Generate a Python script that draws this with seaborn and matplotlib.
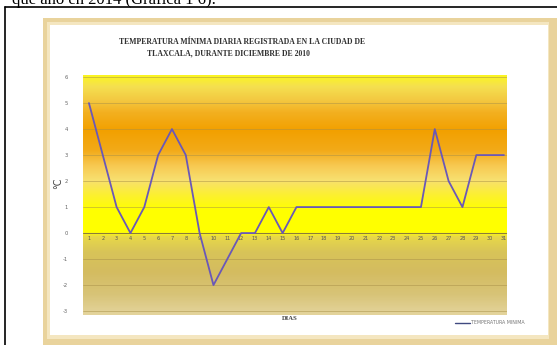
import numpy as np
import pandas as pd
import matplotlib
matplotlib.use("Agg")
import matplotlib.pyplot as plt
from matplotlib.patches import Rectangle
from matplotlib.lines import Line2D
from matplotlib.colors import to_rgb
import seaborn as sns

# Daily minimum temperature, Tlaxcala, December 2010
dias = list(range(1, 32))
temperatura = [5, 3, 1, 0, 1, 3, 4, 3, 0, -2, -1, 0, 0, 1, 0, 1,
               1, 1, 1, 1, 1, 1, 1, 1, 1, 4, 2, 1, 3, 3, 3]
y_ticks = [-3, -2, -1, 0, 1, 2, 3, 4, 5, 6]

titulo_1 = "TEMPERATURA MÍNIMA DIARIA REGISTRADA EN LA CIUDAD DE"
titulo_2 = "TLAXCALA, DURANTE DICIEMBRE DE 2010"
serie = "TEMPERATURA MINIMA"

df = pd.DataFrame({"DIAS": dias, "temp": temperatura})

sns.set_theme(style="white")
plt.rcParams["font.family"] = ["DejaVu Sans"]

W, H = 557, 345
fig = plt.figure(figsize=(W / 100, H / 100), dpi=100)
fig.patch.set_facecolor("white")


def fx(px):
    return px / W


def fy(py):
    return 1 - py / H


# page text above the figure box
fig.text(fx(12), fy(3.5), "que año en 2014 (Gráfica 1 6).", fontsize=12,
         family="Liberation Serif", va="baseline", ha="left", color="black")

# black box around the figure
fig.add_artist(Line2D([fx(5), fx(5)], [fy(7), fy(345)], color="black", lw=1.2,
                      transform=fig.transFigure))
fig.add_artist(Line2D([fx(5), fx(557)], [fy(7), fy(7)], color="black", lw=1.2,
                      transform=fig.transFigure))

# tan picture frame and white chart area
fig.add_artist(Rectangle((fx(43), fy(345)), fx(557 - 43), (345 - 18) / H,
                         transform=fig.transFigure, facecolor="#e9d39c",
                         edgecolor="none", zorder=0))
fig.add_artist(Rectangle((fx(47), fy(339)), fx(549 - 47), (339 - 22) / H,
                         transform=fig.transFigure, facecolor="#f4e6c0",
                         edgecolor="none", zorder=0))
fig.add_artist(Rectangle((fx(50), fy(335)), fx(548 - 50), (335 - 25) / H,
                         transform=fig.transFigure, facecolor="white",
                         edgecolor="none", zorder=0))

# titles
fig.text(fx(242), fy(42), titulo_1, fontsize=5.6, family="Liberation Serif",
         weight="bold", ha="center", va="center", color="#333333")
fig.text(fx(228), fy(53), titulo_2, fontsize=5.6, family="Liberation Serif",
         weight="bold", ha="center", va="center", color="#333333")

ax = fig.add_axes([fx(83), fy(315), fx(507 - 83), (315 - 75) / H])
ymin, ymax = -3.15, 6.08
xmin, xmax = 0.57, 31.22
ax.set_xlim(xmin, xmax)
ax.set_ylim(ymin, ymax)

# vertical colour gradient of the plot area
stops = [(75, "#fbf520"), (86, "#f5e050"), (100, "#f3c840"), (112, "#f3b020"),
         (130, "#f2a000"), (150, "#f3aa18"), (165, "#f7c850"), (180, "#f8e070"),
         (195, "#fcf030"), (210, "#ffff00"), (232, "#ffff00"), (237, "#e8d848"),
         (252, "#d8c458"), (272, "#d4bc60"), (295, "#d8c478"), (315, "#e4d49c")]
pys = np.arange(75, 316)
sp = np.array([s[0] for s in stops])
cols = np.array([to_rgb(s[1]) for s in stops])
grad = np.stack([np.interp(pys, sp, cols[:, k]) for k in range(3)], axis=1)
img = np.repeat(grad[:, None, :], 2, axis=1)
ax.imshow(img, extent=[xmin, xmax, ymin, ymax], aspect="auto", zorder=0,
          interpolation="bilinear")

for v in y_ticks:
    ax.axhline(v, color="#a89048", lw=0.5, alpha=0.7, zorder=1)
ax.axhline(0, color="#8a7a3a", lw=0.7, zorder=1)

sns.lineplot(data=df, x="DIAS", y="temp", ax=ax, color="#6a58b8", lw=1.3,
             zorder=3, legend=False)

for s in ax.spines.values():
    s.set_visible(False)
ax.spines["bottom"].set_position(("data", 0))
ax.set_xticks(dias)
ax.set_xticklabels([str(d) for d in dias], fontsize=3.6, color="#555555")
ax.tick_params(axis="x", length=0, pad=2)
ax.set_yticks(y_ticks)
ax.set_yticklabels([str(v) for v in y_ticks], fontsize=3.8, color="#666666")
ax.tick_params(axis="y", length=0, pad=11)
ax.set_xlabel("")
ax.set_ylabel("")

fig.text(fx(58), fy(183), "°C", fontsize=7, rotation=90, ha="center",
         va="center", color="#444444")
fig.text(fx(290), fy(318), "DIAS", fontsize=4.8, family="Liberation Serif",
         weight="bold", ha="center", va="center", color="#444444")

# legend entry
fig.add_artist(Line2D([fx(455), fx(470)], [fy(323), fy(323)], color="#404a80",
                      lw=1.0, transform=fig.transFigure))
fig.text(fx(471), fy(323), serie, fontsize=3.4, ha="left", va="center",
         color="#777777")

fig.savefig("out.png", dpi=100)
